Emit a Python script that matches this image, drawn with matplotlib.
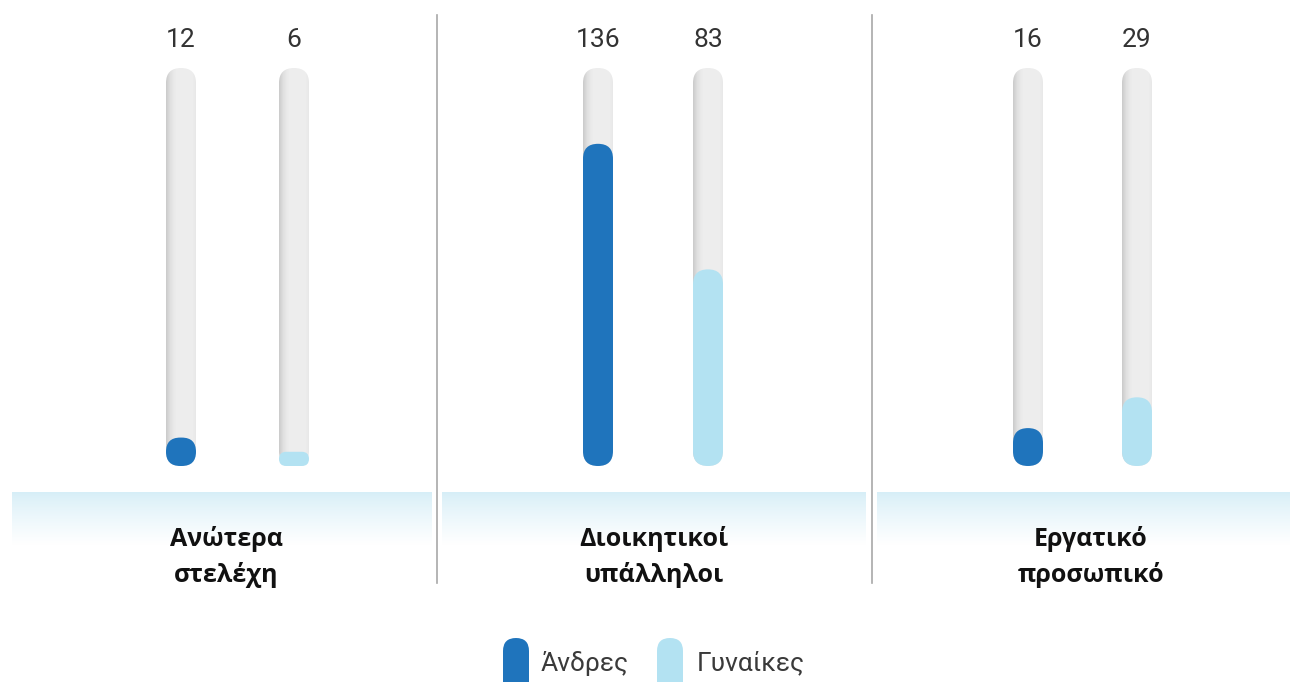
import numpy as np
import matplotlib
matplotlib.use("Agg")
import matplotlib.pyplot as plt
from matplotlib.patches import FancyBboxPatch

# data
CATEGORIES = ["Ανώτερα\nστελέχη", "Διοικητικοί\nυπάλληλοι", "Εργατικό\nπροσωπικό"]
SERIES = ["Άνδρες", "Γυναίκες"]
MEN = [12, 136, 16]
WOMEN = [6, 83, 29]
VMAX = 168

# layout (pixels)
W, H = 1290, 682
PANELS = [(12, 432), (442, 866), (877, 1290)]
BAR_X = [(181, 294), (598, 708), (1028, 1137)]
LABEL_X = [226, 654, 1091]
DIVIDERS = [437, 872]
BAR_W = 30
TRACK_TOP, TRACK_BOT = 68, 466
COLORS = ["#1f74bc", "#b3e2f2"]

fig = plt.figure(figsize=(W / 100, H / 100), dpi=100)

# background axes in pixel coordinates
bg = fig.add_axes([0, 0, 1, 1])
bg.set_xlim(0, W)
bg.set_ylim(H, 0)
bg.axis("off")

band = np.linspace(0, 1, 60) ** 0.8
top = np.array([214, 238, 247]) / 255
band_img = (top[None, :] * (1 - band[:, None]) + band[:, None])[:, None, :]
for x0, x1 in PANELS:
    bg.imshow(band_img, extent=(x0, x1, 545, 492), aspect="auto", zorder=0, interpolation="bilinear")

for x in DIVIDERS:
    bg.plot([x, x], [15, 583], color="#a8a8a8", lw=1.2, zorder=1)

for lx, cat in zip(LABEL_X, CATEGORIES):
    bg.text(lx, 557, cat, ha="center", va="center", fontsize=18, fontweight="bold",
            family="Open Sans", color="#111111", linespacing=1.45, zorder=3)

# legend
leg_x = [(516, 541), (670, 697)]
for (px, tx), name, c in zip(leg_x, SERIES, COLORS):
    bg.add_patch(FancyBboxPatch((px - 13, 638), 26, 60, boxstyle="round,pad=0,rounding_size=13",
                                fc=c, ec="none", zorder=2))
    bg.text(tx, 663, name, ha="left", va="center", fontsize=19, family="Roboto",
            color="#3a3a3a", zorder=3)

# bar axes: x in pixels, y in values
ax = fig.add_axes([0, (H - TRACK_BOT) / H, 1, (TRACK_BOT - TRACK_TOP) / H])
ax.set_xlim(0, W)
ax.set_ylim(0, VMAX)
ax.axis("off")
ax.patch.set_alpha(0)
aspect = VMAX / (TRACK_BOT - TRACK_TOP)

grad = np.array([0.80, 0.82, 0.84, 0.86, 0.88, 0.89, 0.90, 0.91, 0.92, 0.925,
                 0.93, 0.93, 0.93, 0.93, 0.93, 0.93, 0.93, 0.93, 0.93, 0.93,
                 0.93, 0.93, 0.93, 0.93, 0.93, 0.93, 0.93, 0.925, 0.92, 0.91])
track_img = np.repeat(grad[None, :, None], 3, axis=2)

for (xa, xb), m, w in zip(BAR_X, MEN, WOMEN):
    for cx, v, c in ((xa, m, COLORS[0]), (xb, w, COLORS[1])):
        r = BAR_W / 2
        track = FancyBboxPatch((cx - r, 0), BAR_W, VMAX,
                               boxstyle=f"round,pad=0,rounding_size={r}",
                               mutation_aspect=aspect, fc="none", ec="none")
        ax.add_patch(track)
        im = ax.imshow(track_img, extent=(cx - r, cx + r, 0, VMAX), aspect="auto",
                       interpolation="bilinear", zorder=1)
        im.set_clip_path(track)
        hpx = v / aspect
        rr = min(r, hpx / 2)
        ax.add_patch(FancyBboxPatch((cx - r, 0), BAR_W, v,
                                    boxstyle=f"round,pad=0,rounding_size={rr}",
                                    mutation_aspect=aspect, fc=c, ec="none", zorder=2))
        bg.text(cx, 40, str(v), ha="center", va="center", fontsize=19, family="Roboto",
                color="#333333")

fig.savefig("out.png", dpi=100)
